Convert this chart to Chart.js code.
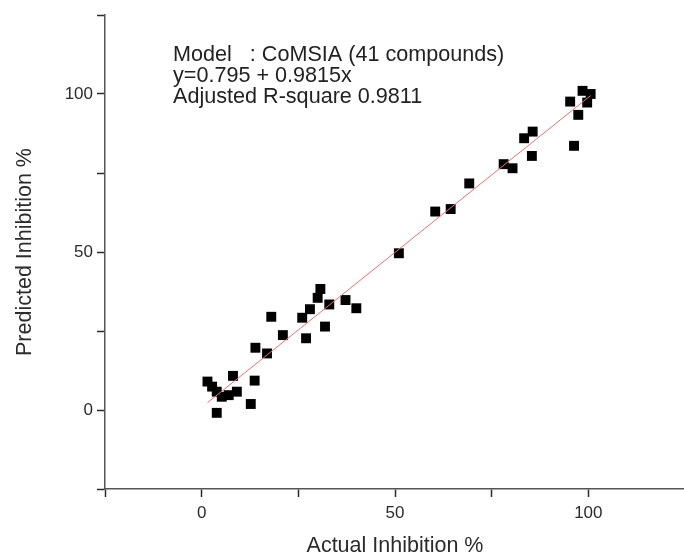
<!DOCTYPE html>
<html>
<head>
<meta charset="utf-8">
<script src="https://cdn.jsdelivr.net/npm/chart.js@4"></script>
<style>
  html, body { margin: 0; padding: 0; background: #fff; overflow: hidden; }
  #wrap { width: 692px; height: 557px; }
</style>
</head>
<body>
<div id="wrap"><canvas id="chart" width="692" height="557"></canvas></div>
<script>
// actual vs predicted inhibition (%)
const actual = [
  30.7, 30.0, 28.0, 26.0, 33.0, 37.2, 40.0, 31.9, 27.0, 18.0,
  21.0, 13.9, 16.9, 8.1, 13.7, 1.5, 2.7, 3.9, 5.2, 7.0,
  9.1, 12.7, 3.9, 51.0, 60.4, 64.4, 69.2, 78.1, 80.4, 83.4,
  85.6, 85.4, 95.3, 96.3, 97.4, 98.5, 100.6, 99.7
];
const predicted = [
  38.3, 35.5, 31.9, 29.2, 33.4, 34.8, 32.2, 26.4, 22.7, 29.5,
  23.7, 19.7, 17.9, 10.8, 9.3, 9.0, 7.4, 5.8, 4.2, 4.7,
  5.8, 1.9, -0.9, 49.6, 62.8, 63.6, 71.7, 77.8, 76.5, 86.0,
  88.1, 80.4, 97.6, 83.6, 93.4, 101.0, 100.0, 97.3
];

// ends of the fitted line
const fitX = [1.5, 100.6];
const fitY = [2.3, 99.5];

const tickValues = [0, 50, 100];
const annotationLines = [
  "Model   : CoMSIA (41 compounds)",
  "y=0.795 + 0.9815x",
  "Adjusted R-square 0.9811"
];

const FONT = "'Liberation Sans', Arial, sans-serif";
const INK = "#2b2b2b";

const points = actual.map((x, i) => ({ x: x, y: predicted[i] }));
const fitLine = fitX.map((x, i) => ({ x: x, y: fitY[i] }));

const annotation = {
  id: "annotation",
  afterDraw(chart) {
    const ctx = chart.ctx;
    ctx.save();
    ctx.fillStyle = "#222";
    ctx.font = "21.6px " + FONT;
    ctx.textBaseline = "middle";
    annotationLines.forEach((t, i) => {
      ctx.fillText(t, 173, 55 + i * 21);
    });
    ctx.restore();
  },
};

const tickLabel = (value) => (tickValues.includes(value) ? value : "");

const config = {
  type: "scatter",
  data: {
    datasets: [
      {
        data: fitLine,
        showLine: true,
        borderColor: "#e8706f",
        borderWidth: 1,
        pointRadius: 0,
      },
      {
        data: points,
        pointStyle: "rect",
        pointRadius: 7,
        pointHoverRadius: 7,
        backgroundColor: "#000",
        borderWidth: 0,
      },
    ],
  },
  options: {
    responsive: false,
    animation: false,
    layout: {
      padding: { top: 15, right: 3, bottom: 0, left: 0 },
    },
    scales: {
      x: {
        type: "linear",
        min: -25,
        max: 125,
        afterFit: (scale) => { scale.height = 68; },
        border: { display: true, color: "#555", width: 1.5 },
        grid: {
          drawOnChartArea: false,
          drawTicks: true,
          tickLength: 8,
          tickColor: INK,
          tickWidth: 1.5,
        },
        ticks: {
          stepSize: 25,
          autoSkip: false,
          maxRotation: 0,
          padding: 6,
          color: INK,
          font: { family: FONT, size: 17 },
          callback: tickLabel,
        },
        title: {
          display: true,
          text: "Actual Inhibition %",
          color: INK,
          font: { family: FONT, size: 21.5, lineHeight: 1 },
          padding: { top: 0, bottom: 0 },
        },
      },
      y: {
        type: "linear",
        min: -25,
        max: 125,
        afterFit: (scale) => { scale.width = 105; },
        border: { display: true, color: "#555", width: 1.5 },
        grid: {
          drawOnChartArea: false,
          drawTicks: true,
          tickLength: 8,
          tickColor: INK,
          tickWidth: 1.5,
        },
        ticks: {
          stepSize: 25,
          autoSkip: false,
          padding: 4,
          color: INK,
          font: { family: FONT, size: 17 },
          callback: tickLabel,
        },
        title: {
          display: true,
          text: "Predicted Inhibition %",
          color: INK,
          font: { family: FONT, size: 21.5, lineHeight: 1 },
          padding: { top: 14, bottom: 0 },
        },
      },
    },
    plugins: {
      legend: { display: false },
      tooltip: { enabled: false },
    },
  },
  plugins: [annotation],
};

new Chart(document.getElementById("chart"), config);
</script>
</body>
</html>
